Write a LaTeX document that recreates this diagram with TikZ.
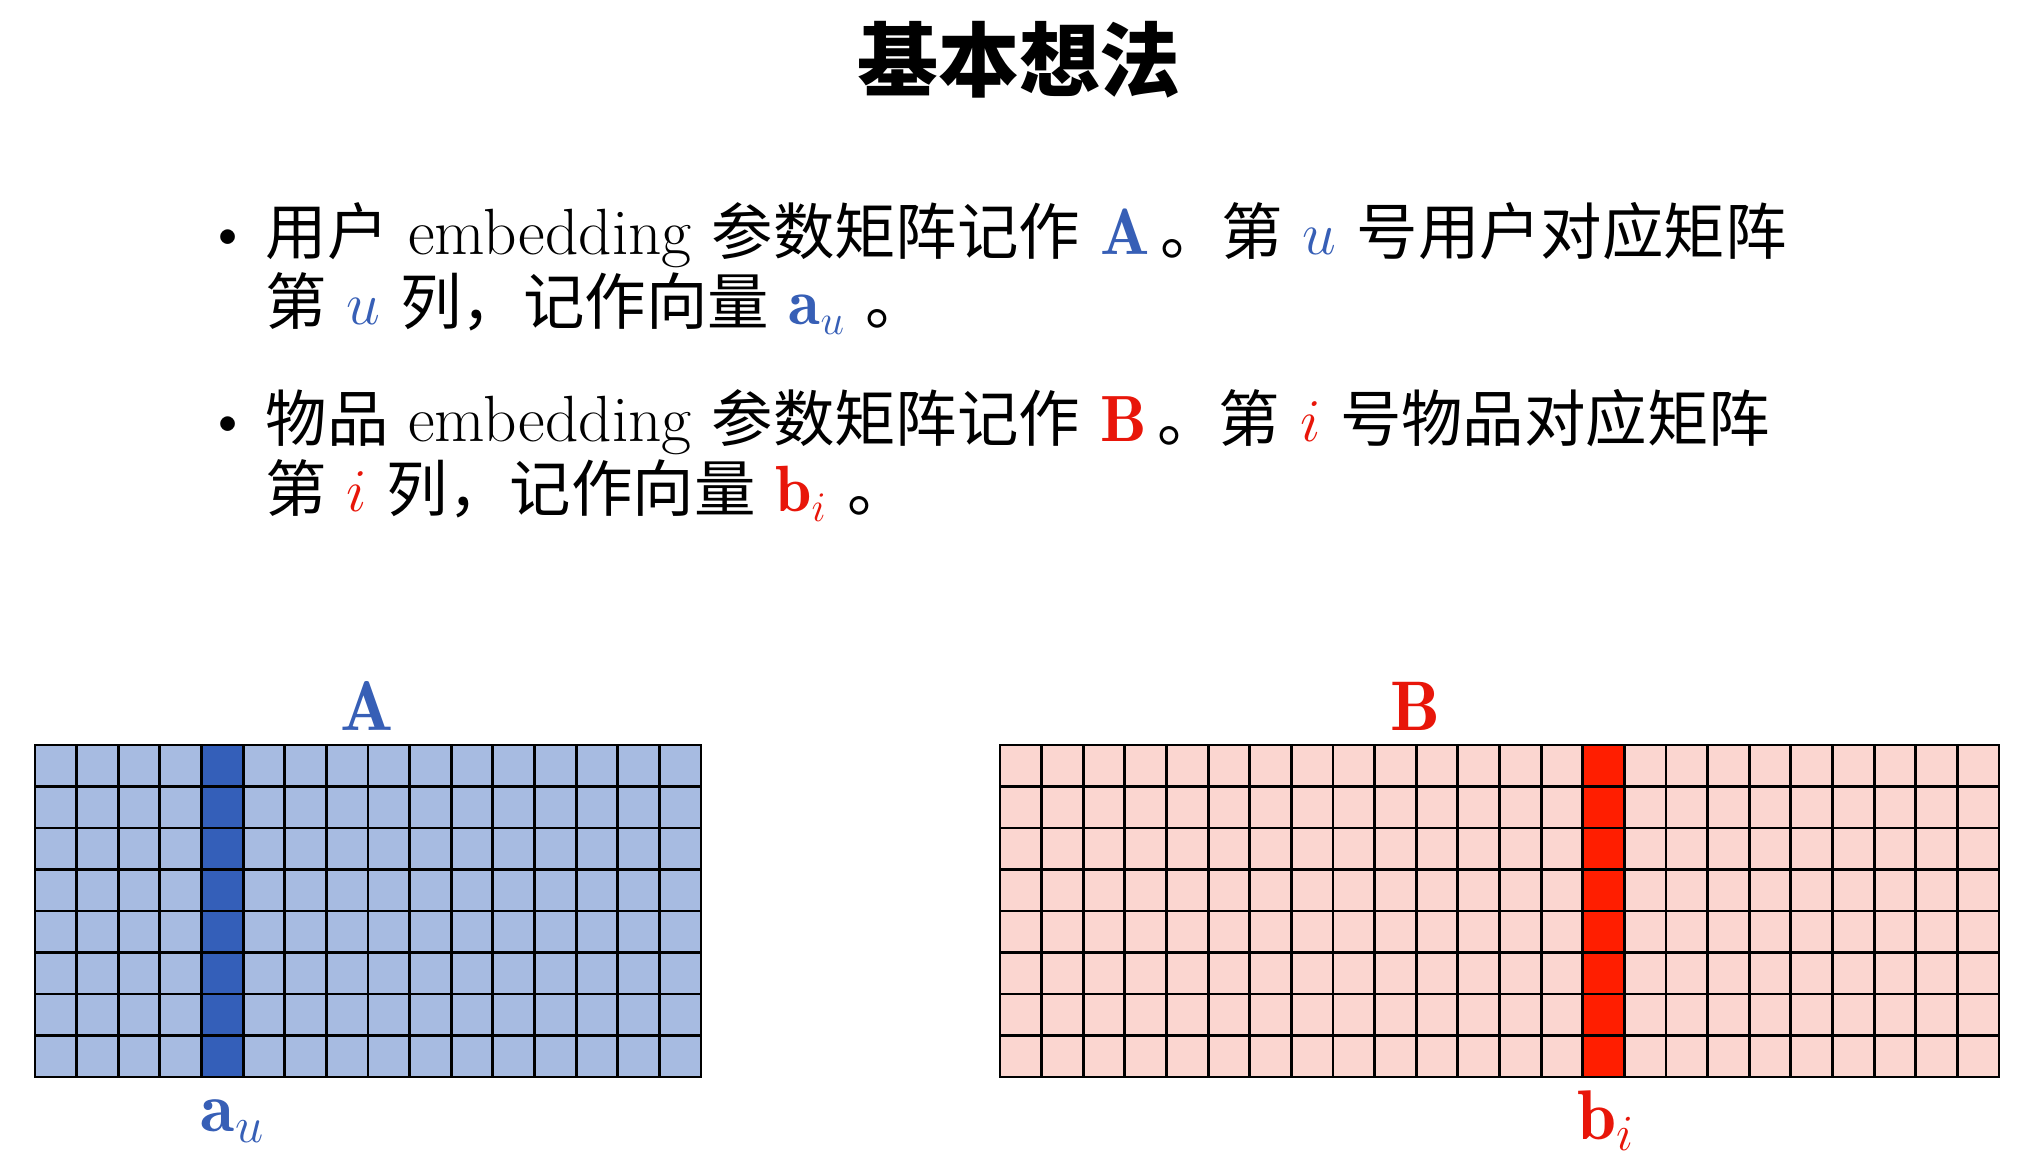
\documentclass[tikz,border=0pt]{standalone}
\usepackage{fontspec}
\newfontfamily\cjk[Scale=0.94]{Noto Sans CJK SC}
\usetikzlibrary{positioning}
\definecolor{ublue}{RGB}{55,95,182}
\definecolor{ubluelight}{RGB}{167,187,225}
\definecolor{ubluedark}{RGB}{52,95,185}
\definecolor{ired}{RGB}{232,22,10}
\definecolor{iredlight}{RGB}{251,214,208}
\definecolor{ireddark}{RGB}{255,30,0}
\newcommand{\zh}[1]{{\cjk #1}}

\begin{document}
\begin{tikzpicture}[line cap=rect,
    gridline/.style={draw=black, line width=0.8pt},
    textline/.style={anchor=base west, inner sep=0pt, font=\fontsize{18.6}{21}\selectfont},
    dot/.style={anchor=base, inner sep=0pt, font=\fontsize{18.6}{21}\selectfont},
    matlabel/.style={inner sep=0pt, font=\fontsize{20}{22}\selectfont}
    ]
    \useasboundingbox (0,0) rectangle (20.28,11.66);
    \node (title) at (10.19,11.06) {\cjk\bfseries\fontsize{24.5}{26}\selectfont 基本想法};

    % bullets
    \node[dot] (dot1) at (2.28,9.11) {\textbullet};
    \node[textline] (line1) at (2.65,9.11) {\zh{用户} embedding \zh{参数矩阵记作} \textcolor{ublue}{$\mathbf{A}$}\,\zh{。第} \textcolor{ublue}{$u$} \zh{号用户对应矩阵}};
    \node[textline] (line2) at (2.65,8.41) {\zh{第} \textcolor{ublue}{$u$} \zh{列，记作向量} \textcolor{ublue}{$\mathbf{a}_u$} \zh{。}};
    \node[dot] (dot2) at (2.28,7.24) {\textbullet};
    \node[textline] (line3) at (2.65,7.24) {\zh{物品} embedding \zh{参数矩阵记作} \textcolor{ired}{$\mathbf{B}$}\,\zh{。第} \textcolor{ired}{$i$} \zh{号物品对应矩阵}};
    \node[textline] (line4) at (2.65,6.54) {\zh{第} \textcolor{ired}{$i$} \zh{列，记作向量} \textcolor{ired}{$\mathbf{b}_i$} \zh{。}};

    % matrix A: 16 x 8, column 5 picked
    \fill[ubluelight] (0.35,0.89) rectangle ++(6.66,3.32);
    \fill[ubluedark] (0.35+4*0.41625,0.89) rectangle ++(0.41625,3.32);
    \foreach \c in {0,...,16}
        \draw[gridline] (0.35+\c*0.41625,0.89) -- ++(0,3.32);
    \foreach \r in {0,...,8}
        \draw[gridline] (0.35,0.89+\r*0.415) -- ++(6.66,0);
    \node[matlabel, text=ublue] (labA) at (3.67,4.60) {$\mathbf{A}$};
    \node[matlabel, text=ublue] (labau) at (2.33,0.45) {$\mathbf{a}_u$};

    % matrix B: 24 x 8, column 15 picked
    \fill[iredlight] (10.00,0.89) rectangle ++(9.99,3.32);
    \fill[ireddark] (10.00+14*0.41625,0.89) rectangle ++(0.41625,3.32);
    \foreach \c in {0,...,24}
        \draw[gridline] (10.00+\c*0.41625,0.89) -- ++(0,3.32);
    \foreach \r in {0,...,8}
        \draw[gridline] (10.00,0.89+\r*0.415) -- ++(9.99,0);
    \node[matlabel, text=ired] (labB) at (14.15,4.60) {$\mathbf{B}$};
    \node[matlabel, text=ired] (labbi) at (16.06,0.45) {$\mathbf{b}_i$};
\end{tikzpicture}
\end{document}
